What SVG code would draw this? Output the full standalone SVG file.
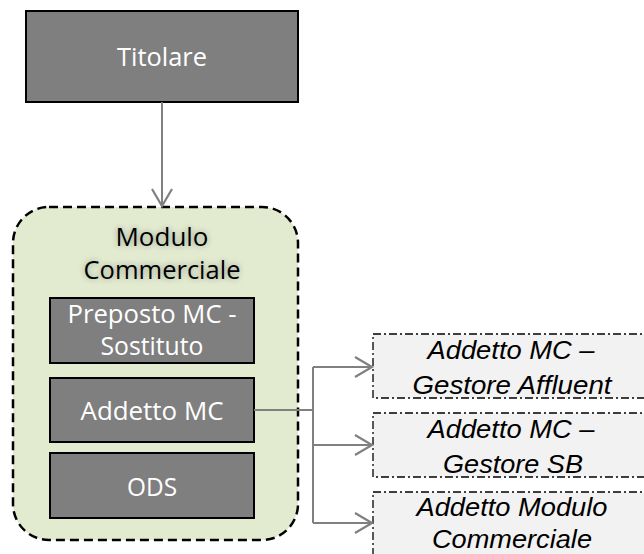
<svg xmlns="http://www.w3.org/2000/svg" width="644" height="554" viewBox="0 0 644 554">
<defs>
<style>
.dark{fill:#7f7f7f;stroke:#000;stroke-width:2}
.wt{fill:#fff;font-family:"Open Sans","DejaVu Sans",sans-serif;font-size:25px;text-anchor:middle}
.bt{fill:#000;font-family:"Open Sans","DejaVu Sans",sans-serif;font-size:25px;text-anchor:middle}
.it{fill:#000;font-family:"Liberation Sans",Arial,sans-serif;font-style:italic;font-size:25px;text-anchor:middle}
.ext{fill:#f2f2f2;stroke:#000;stroke-width:1.3;stroke-dasharray:8 3 2 3}
.conn{fill:none;stroke:#808080;stroke-width:2}
</style>
<marker id="arr" markerUnits="userSpaceOnUse" markerWidth="22" markerHeight="24" refX="18" refY="11" orient="auto" viewBox="0 0 22 24">
<path d="M1,1 L18,11 L1,21" fill="none" stroke="#808080" stroke-width="2.2"/>
</marker>
<filter id="glow" x="-20%" y="-30%" width="140%" height="160%">
<feGaussianBlur stdDeviation="3"/>
</filter>
</defs>

<g id="titolare">
<rect class="dark" x="26" y="11" width="272" height="91"/>
<text class="wt" x="162" y="66" textLength="90" lengthAdjust="spacingAndGlyphs">Titolare</text>
</g>

<g id="modulo-commerciale">
<rect x="13" y="207" width="285" height="333" rx="36" ry="36" fill="#e2ead0" stroke="#000" stroke-width="2.5" stroke-dasharray="9 5"/>
<g filter="url(#glow)" opacity="0.35">
<text class="bt" x="162" y="246" textLength="93" lengthAdjust="spacingAndGlyphs">Modulo</text>
<text class="bt" x="162" y="279" textLength="157" lengthAdjust="spacingAndGlyphs">Commerciale</text>
</g>
<text class="bt" x="162" y="246" textLength="93" lengthAdjust="spacingAndGlyphs">Modulo</text>
<text class="bt" x="162" y="279" textLength="157" lengthAdjust="spacingAndGlyphs">Commerciale</text>
</g>

<g id="preposto">
<rect class="dark" x="50" y="298" width="204" height="65"/>
<text class="wt" x="152" y="323" textLength="169" lengthAdjust="spacingAndGlyphs">Preposto MC -</text>
<text class="wt" x="152" y="355" textLength="103" lengthAdjust="spacingAndGlyphs">Sostituto</text>
</g>

<g id="addetto-mc">
<rect class="dark" x="50" y="378" width="204" height="64"/>
<text class="wt" x="152" y="420" textLength="143" lengthAdjust="spacingAndGlyphs">Addetto MC</text>
</g>

<g id="ods">
<rect class="dark" x="50" y="453" width="204" height="65"/>
<text class="wt" x="152" y="496" textLength="50" lengthAdjust="spacingAndGlyphs">ODS</text>
</g>

<g id="gestore-affluent">
<rect class="ext" x="373" y="334" width="280" height="64"/>
<text class="it" x="511" y="359" textLength="167" lengthAdjust="spacingAndGlyphs">Addetto MC –</text>
<text class="it" x="512" y="394" textLength="199" lengthAdjust="spacingAndGlyphs">Gestore Affluent</text>
</g>

<g id="gestore-sb">
<rect class="ext" x="373" y="413" width="280" height="64"/>
<text class="it" x="511" y="438" textLength="167" lengthAdjust="spacingAndGlyphs">Addetto MC –</text>
<text class="it" x="513" y="473" textLength="140" lengthAdjust="spacingAndGlyphs">Gestore SB</text>
</g>

<g id="addetto-modulo">
<rect class="ext" x="373" y="492" width="280" height="80"/>
<text class="it" x="512" y="516" textLength="191" lengthAdjust="spacingAndGlyphs">Addetto Modulo</text>
<text class="it" x="512" y="548" textLength="160" lengthAdjust="spacingAndGlyphs">Commerciale</text>
</g>

<g id="connectors">
<path class="conn" d="M162,102 V206" marker-end="url(#arr)"/>
<path class="conn" d="M254,410 H313"/>
<path class="conn" d="M313,367 V523"/>
<path class="conn" d="M313,367 H372" marker-end="url(#arr)"/>
<path class="conn" d="M313,445 H372" marker-end="url(#arr)"/>
<path class="conn" d="M313,523 H372" marker-end="url(#arr)"/>
</g>
</svg>
